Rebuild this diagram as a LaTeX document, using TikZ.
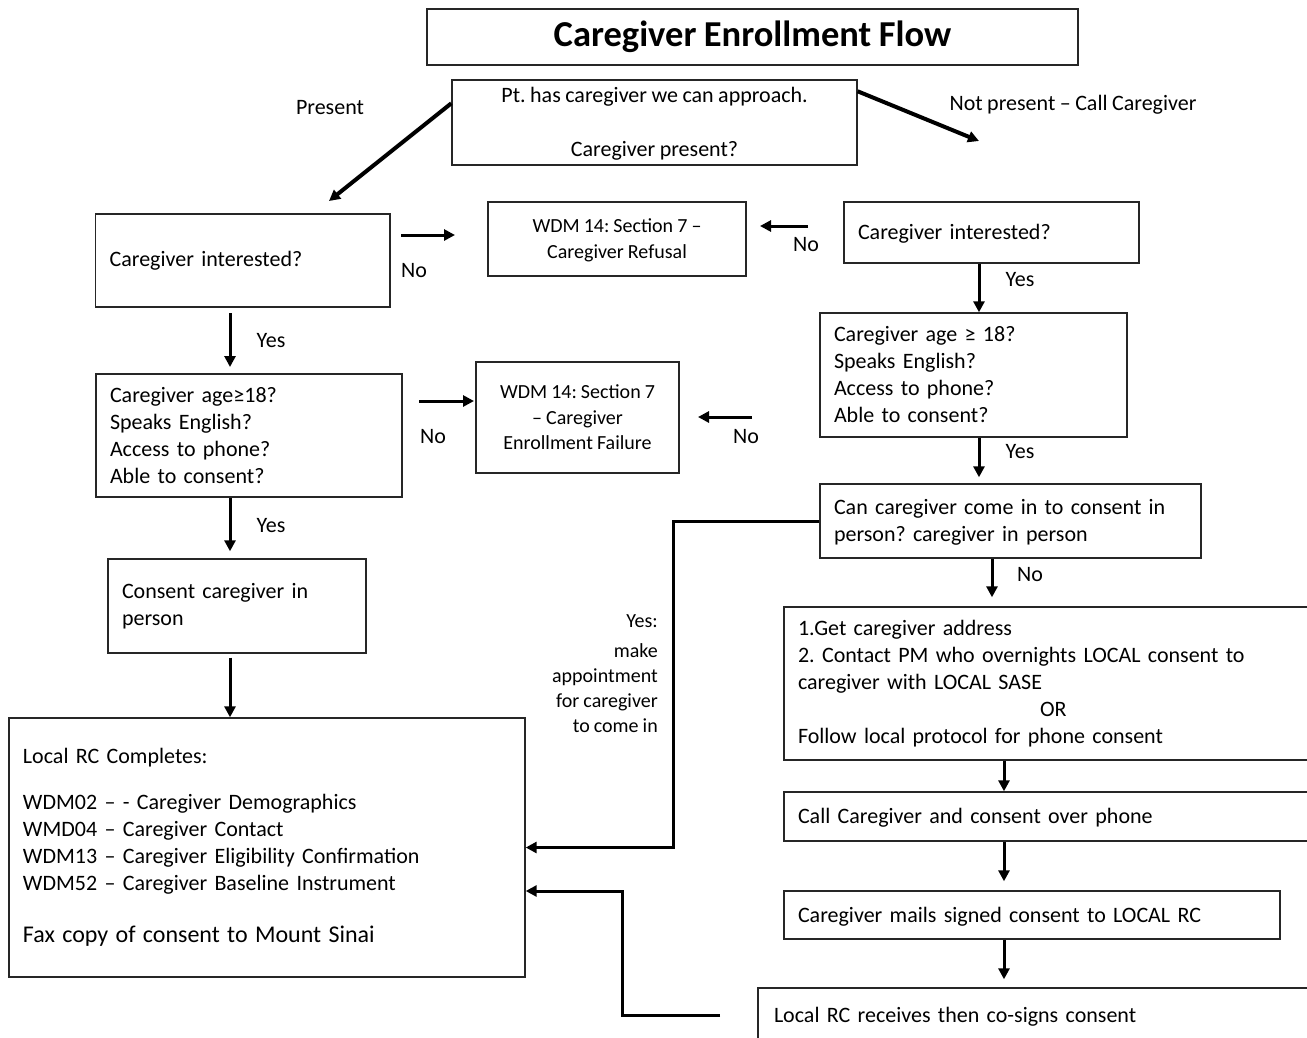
\documentclass[tikz,border=0pt]{standalone}
\usepackage{fontspec}
\setmainfont{Carlito}[WordSpace=0.9]
\usetikzlibrary{arrows.meta}
\frenchspacing
\begin{document}
\begin{tikzpicture}[x=1pt,y=-1pt,
  box/.style={draw=black!85, line width=1.4pt, rectangle, inner ysep=0pt, inner xsep=14pt,
    font=\fontsize{22}{27}\selectfont, align=left},
  cbox/.style={box, align=center, inner xsep=4pt},
  lbl/.style={inner sep=0pt, font=\fontsize{22}{27}\selectfont},
  arr/.style={line width=3pt, -{Triangle[length=11pt,width=11pt]}},
  thickarr/.style={arr, line width=4pt}
]
\useasboundingbox (0,0) rectangle (1307,1037);
\clip (0,0) rectangle (1307,1037);

% title and entry question
\node[cbox, minimum width=651pt, minimum height=56pt,
      font=\fontsize{36.5}{43}\selectfont\bfseries] (title) at (752.5,37) {Caregiver Enrollment Flow};
\node[cbox, minimum width=405pt, minimum height=85pt] (top) at (654.5,122.5)
  {\rule{0pt}{18pt}Pt. has caregiver we can approach.\\[27pt]Caregiver present?};

% caregiver present (left column)
\node[box, minimum width=294.4pt, text width=266.4pt, minimum height=93pt] (linter) at (242.8,260.5)
  {Caregiver interested?};
\node[box, minimum width=306pt, text width=278pt, minimum height=123pt] (lcrit) at (249,435.5)
  {Caregiver age≥18?\\Speaks English?\\Access to phone?\\Able to consent?};
\node[box, minimum width=258pt, text width=230pt, minimum height=94pt] (consent) at (237,606)
  {Consent caregiver in\\person};
\node[box, minimum width=516pt, text width=488pt, minimum height=259pt] (lrc) at (267,847.5)
  {Local RC Completes:\\[19pt]WDM02 – - Caregiver Demographics\\WMD04 – Caregiver Contact\\WDM13 – Caregiver Eligibility Confirmation\\WDM52 – Caregiver Baseline Instrument\\[25pt]{\fontsize{24}{29}\selectfont Fax copy of consent to Mount Sinai}};

% outcome boxes in the middle
\node[cbox, minimum width=258pt, minimum height=74pt, font=\fontsize{20}{26}\selectfont] (refusal) at (617,239)
  {\rule{0pt}{16pt}WDM 14: Section 7 –\\Caregiver Refusal};
\node[cbox, minimum width=203pt, minimum height=111pt, font=\fontsize{20}{25.5}\selectfont] (failure) at (577.5,417.5)
  {WDM 14: Section 7\\– Caregiver\\Enrollment Failure};

% caregiver not present (right column)
\node[box, minimum width=295pt, text width=267pt, minimum height=61pt] (rinter) at (991.5,232.5)
  {\rule{0pt}{18pt}Caregiver interested?};
\node[box, minimum width=307pt, text width=279pt, minimum height=124pt] (rcrit) at (973.5,375)
  {Caregiver age ≥ 18?\\Speaks English?\\Access to phone?\\Able to consent?};
\node[box, minimum width=381pt, text width=353pt, minimum height=74pt] (can) at (1010.5,521)
  {\rule{0pt}{18pt}Can caregiver come in to consent in\\person? caregiver in person};
\node[box, minimum width=546pt, text width=518pt, minimum height=153pt] (postal) at (1057,683.5)
  {1.Get caregiver address\\2. Contact PM who overnights LOCAL consent to\\caregiver with LOCAL SASE\\\hspace*{242pt}OR\\Follow local protocol for phone consent};
\node[box, minimum width=546pt, text width=518pt, minimum height=49pt] (call) at (1057,816.5)
  {\rule{0pt}{18pt}Call Caregiver and consent over phone};
\node[box, minimum width=496pt, text width=468pt, minimum height=48pt] (mails) at (1032,915)
  {\rule{0pt}{18pt}Caregiver mails signed consent to LOCAL RC};
\node[box, minimum width=572pt, text width=540pt, inner xsep=16pt, minimum height=54pt] (recv) at (1044,1015)
  {\rule{0pt}{18pt}Local RC receives then co-signs consent};

% labels
\node[lbl] (lpres) at (330,108) {Present};
\node[lbl] (lnpres) at (1073,105) {Not present – Call Caregiver};
\node[lbl] (lno1) at (414,271) {No};
\node[lbl] (lno2) at (806,245) {No};
\node[lbl] (lno3) at (433,437) {No};
\node[lbl] (lno4) at (746,437) {No};
\node[lbl] (lno5) at (1030,575) {No};
\node[lbl] (lyes1) at (271,341) {Yes};
\node[lbl] (lyes2) at (271,526) {Yes};
\node[lbl] (lyes3) at (1020,280) {Yes};
\node[lbl] (lyes4) at (1020,452) {Yes};
\node[lbl, font=\fontsize{20}{25}\selectfont, align=right, anchor=east] (lappt) at (658,674)
  {Yes:\\[5pt]make\\appointment\\for caregiver\\to come in};

% free arrow ends and column positions
\coordinate (pres) at (329,201);
\coordinate (npres) at (979,141);
\coordinate (a1) at (401,235);  \coordinate (a1e) at (455,235);
\coordinate (a2) at (808,226);  \coordinate (a2e) at (760,226);
\coordinate (a3) at (230,313);  \coordinate (a3e) at (230,367);
\coordinate (a4) at (419,401);  \coordinate (a4e) at (474,401);
\coordinate (a5) at (752,417);  \coordinate (a5e) at (698,417);
\coordinate (lcol) at (230,0);
\coordinate (rcol) at (979,0);
\coordinate (rcol2) at (992,0);
\coordinate (rcol3) at (1004,0);
\coordinate (turn1) at (673,0);
\coordinate (r0) at (720,1015);
\coordinate (turn2) at (622,0);

% connectors
\draw[thickarr] ([yshift=-24pt]top.north west) -- (pres);
\draw[thickarr] ([yshift=-12pt]top.north east) -- (npres);
\draw[arr] (a1) -- (a1e);
\draw[arr] (a2) -- (a2e);
\draw[arr] (a3) -- (a3e);
\draw[arr] (a4) -- (a4e);
\draw[arr] (a5) -- (a5e);
\draw[arr, shorten >=7pt] (lcrit.south -| lcol) -- (consent.north -| lcol);
\draw[arr, shorten <=4pt] (consent.south -| lcol) -- (lrc.north -| lcol);
\draw[arr] (rinter.south -| rcol) -- (rcrit.north -| rcol);
\draw[arr, shorten >=6pt] (rcrit.south -| rcol) -- (can.north -| rcol);
\draw[arr, shorten >=9pt] (can.south -| rcol2) -- (postal.north -| rcol2);
\draw[arr] (postal.south -| rcol3) -- (call.north -| rcol3);
\draw[arr, shorten >=9pt] (call.south -| rcol3) -- (mails.north -| rcol3);
\draw[arr, shorten >=8pt] (mails.south -| rcol3) -- (recv.north -| rcol3);
\draw[arr] (can.west) -- (can.west -| turn1) |- (lrc.east);
\draw[arr] (r0) -- (r0 -| turn2) |- ([yshift=-43.5pt]lrc.east);
\end{tikzpicture}
\end{document}
